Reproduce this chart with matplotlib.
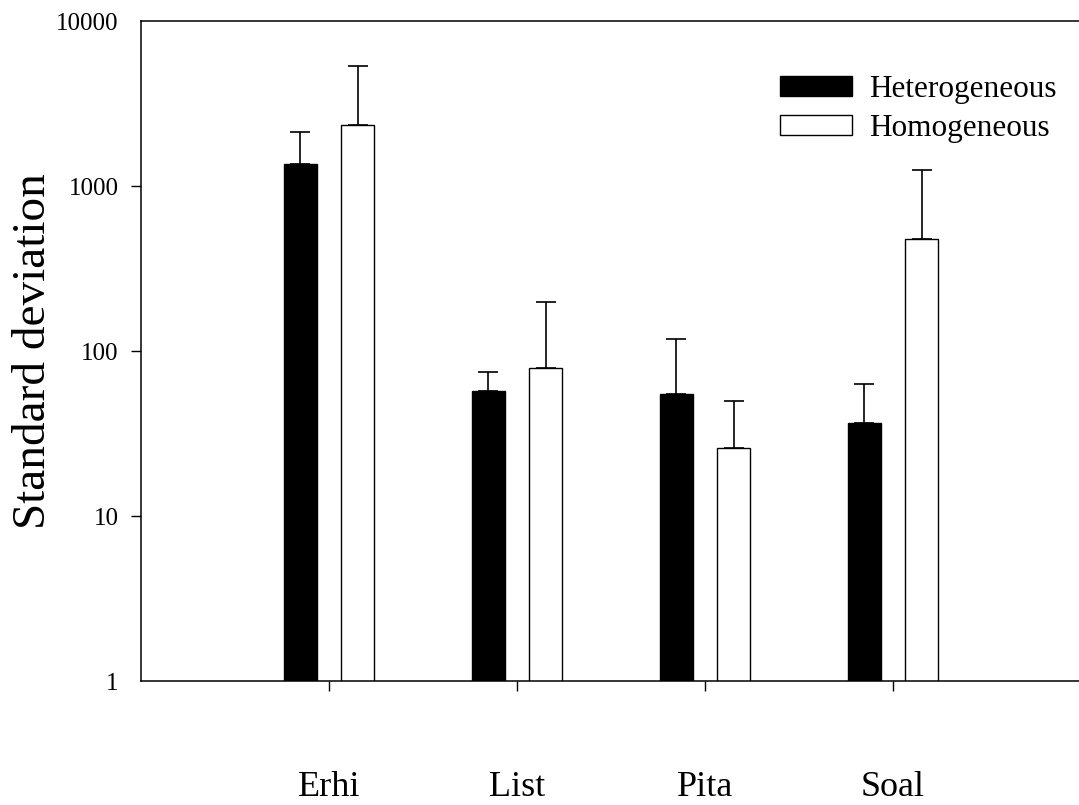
import matplotlib
matplotlib.use("Agg")
import matplotlib.pyplot as plt
from matplotlib.patches import Patch
from matplotlib.ticker import FixedLocator, FixedFormatter, NullLocator
import numpy as np

categories = ["Erhi", "List", "Pita", "Soal"]
hetero = [1360, 57, 54.7, 36.5]
hetero_upper = [2116, 74.9, 118, 63]
homo = [2350, 79, 26, 480]
homo_upper = [5310, 199, 49.8, 1255]
series_names = ["Heterogeneous", "Homogeneous"]
yticks = [1, 10, 100, 1000, 10000]
ytick_labels = ["1", "10", "100", "1000", "10000"]

plt.rcParams['font.family'] = ['Liberation Serif', 'DejaVu Serif']

W, H = 1079, 805
fig = plt.figure(figsize=(W / 100, H / 100), dpi=100)
ax = fig.add_axes([141 / W, (H - 681) / H, 940 / W, 660 / H])

x = np.arange(len(categories))
bw = 0.18
off = 0.152
h_err = np.array(hetero_upper) - np.array(hetero)
o_err = np.array(homo_upper) - np.array(homo)
ax.bar(x - off, hetero, bw, color='black', edgecolor='black', linewidth=1, zorder=2)
ax.bar(x + off, homo, bw, color='white', edgecolor='black', linewidth=1, zorder=2)
ax.errorbar(x - off, hetero, yerr=[np.zeros(len(x)), h_err], fmt='none',
            ecolor='black', elinewidth=1.2, capsize=7, capthick=1.2, zorder=1)
ax.errorbar(x + off, homo, yerr=[np.zeros(len(x)), o_err], fmt='none',
            ecolor='black', elinewidth=1.2, capsize=7, capthick=1.2, zorder=1)

ax.set_yscale('log')
ax.set_ylim(1, 10000)
ax.set_xlim(-1, 4)
ax.yaxis.set_major_locator(FixedLocator(yticks))
ax.yaxis.set_major_formatter(FixedFormatter(ytick_labels))
ax.yaxis.set_minor_locator(NullLocator())
ax.set_xticks(x)
ax.set_xticklabels(categories, fontsize=26)
ax.tick_params(axis='y', direction='out', length=7, width=1, labelsize=18, pad=9)
ax.tick_params(axis='x', direction='out', length=7, width=1, pad=58)
for t in (ax.yaxis.get_major_ticks()[0], ax.yaxis.get_major_ticks()[-1]):
    t.tick1line.set_visible(False)
for s in ax.spines.values():
    s.set_linewidth(1.1)
ax.spines['right'].set_visible(False)

ax.set_ylabel("Standard deviation", fontsize=34, labelpad=1)

handles = [Patch(facecolor='black', edgecolor='black', linewidth=1),
           Patch(facecolor='white', edgecolor='black', linewidth=1)]
leg = ax.legend(handles, series_names, loc='upper left',
                bbox_to_anchor=(780 / W, (H - 75) / H), bbox_transform=fig.transFigure,
                frameon=False, fontsize=22.5, handlelength=2.3, handleheight=0.62,
                handletextpad=0.55, labelspacing=0.32, borderpad=0, borderaxespad=0)

fig.savefig("out.png", dpi=100)
